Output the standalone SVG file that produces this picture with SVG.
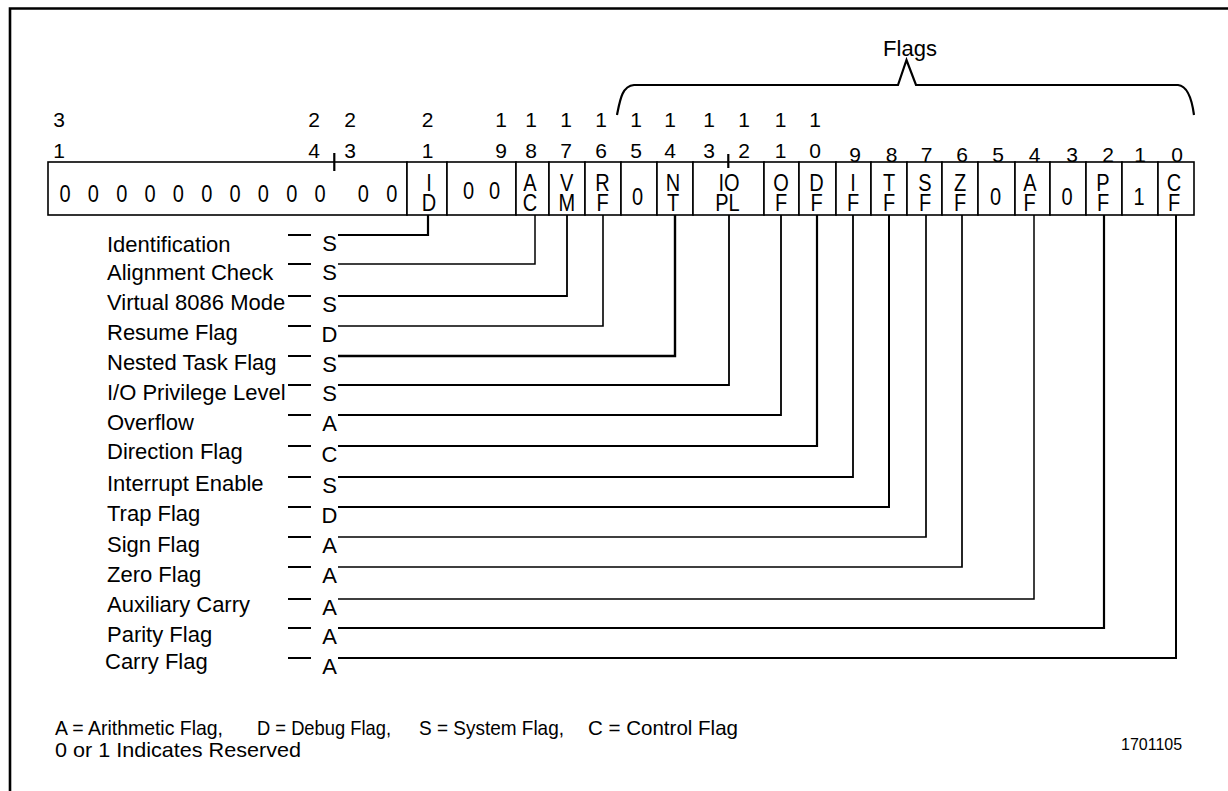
<svg xmlns="http://www.w3.org/2000/svg" width="1228" height="791" viewBox="0 0 1228 791">
<style>
text{font-family:"Liberation Sans",Arial,Helvetica,sans-serif;fill:#000}
.n{font-size:21px;text-anchor:middle}
.c{font-size:20px;text-anchor:middle}
.lb{font-size:22px}
.lt{font-size:22px;text-anchor:middle}
.lg{font-size:21px}
.cell{fill:#fff;stroke:#000;stroke-width:1.6}
.tk{fill:none;stroke:#000;stroke-width:2.2}
.ds{stroke:#000;stroke-width:2}
</style>
<rect width="1228" height="791" fill="#fff"/>
<path d="M10,791 V8.5 H1228" fill="none" stroke="#000" stroke-width="2.6"/>

<g id="bit-numbers">
<text class="n" x="59" y="126.5">3</text><text class="n" x="59" y="158">1</text>
<text class="n" x="314" y="126.5">2</text><text class="n" x="314" y="158">4</text>
<text class="n" x="350" y="126.5">2</text><text class="n" x="350" y="158">3</text>
<text class="n" x="427.5" y="126.5">2</text><text class="n" x="427.5" y="158">1</text>
<text class="n" x="501" y="126.5">1</text><text class="n" x="501" y="158">9</text>
<text class="n" x="531" y="126.5">1</text><text class="n" x="531" y="158">8</text>
<text class="n" x="566" y="126.5">1</text><text class="n" x="566" y="158">7</text>
<text class="n" x="601" y="126.5">1</text><text class="n" x="601" y="158">6</text>
<text class="n" x="636" y="126.5">1</text><text class="n" x="636" y="158">5</text>
<text class="n" x="670" y="126.5">1</text><text class="n" x="670" y="158">4</text>
<text class="n" x="709" y="126.5">1</text><text class="n" x="709" y="158">3</text>
<text class="n" x="744" y="126.5">1</text><text class="n" x="744" y="158">2</text>
<text class="n" x="780.5" y="126.5">1</text><text class="n" x="780.5" y="158">1</text>
<text class="n" x="815" y="126.5">1</text><text class="n" x="815" y="158">0</text>
<text class="n" x="855" y="161.5">9</text>
<text class="n" x="891.5" y="161.5">8</text>
<text class="n" x="926.5" y="161.5">7</text>
<text class="n" x="962" y="161.5">6</text>
<text class="n" x="998" y="161.5">5</text>
<text class="n" x="1034.5" y="161.5">4</text>
<text class="n" x="1072" y="161.5">3</text>
<text class="n" x="1108" y="161.5">2</text>
<text class="n" x="1140" y="161.5">1</text>
<text class="n" x="1177" y="161.5">0</text>
</g>

<g id="flags-brace">
<path class="tk" d="M617,115 C620,100 622,86 634,85 H898 L906.5,60 L916,85 H1178 C1188,86 1192,100 1194,115" stroke-width="2"/>
<text class="lt" x="910" y="56">Flags</text>
</g>

<g id="register">
<g id="cell-reserved-31-22">
<rect class="cell" x="48" y="162" width="359" height="53"/>
<text class="c" transform="translate(65 201.5) scale(1 1.15)">0</text>
<text class="c" transform="translate(93.3 201.5) scale(1 1.15)">0</text>
<text class="c" transform="translate(121.7 201.5) scale(1 1.15)">0</text>
<text class="c" transform="translate(150 201.5) scale(1 1.15)">0</text>
<text class="c" transform="translate(178.3 201.5) scale(1 1.15)">0</text>
<text class="c" transform="translate(206.7 201.5) scale(1 1.15)">0</text>
<text class="c" transform="translate(235 201.5) scale(1 1.15)">0</text>
<text class="c" transform="translate(263.3 201.5) scale(1 1.15)">0</text>
<text class="c" transform="translate(291.7 201.5) scale(1 1.15)">0</text>
<text class="c" transform="translate(320 201.5) scale(1 1.15)">0</text>
<text class="c" transform="translate(363.3 201.5) scale(1 1.15)">0</text>
<text class="c" transform="translate(391.7 201.5) scale(1 1.15)">0</text>
</g>
<g id="cell-ID"><rect class="cell" x="407" y="162" width="40" height="53"/>
<text class="c" transform="translate(429 190.5) scale(1 1.15)">I</text><text class="c" transform="translate(429 211) scale(1 1.15)">D</text></g>
<g id="cell-reserved-20-19"><rect class="cell" x="447" y="162" width="69" height="53"/>
<text class="c" transform="translate(468.5 199) scale(1 1.15)">0</text><text class="c" transform="translate(494.5 199) scale(1 1.15)">0</text></g>
<g id="cell-AC"><rect class="cell" x="516" y="162" width="33" height="53"/>
<text class="c" transform="translate(530 190.5) scale(1 1.15)">A</text><text class="c" transform="translate(530 211) scale(1 1.15)">C</text></g>
<g id="cell-VM"><rect class="cell" x="549" y="162" width="36" height="53"/>
<text class="c" transform="translate(566.7 190.5) scale(1 1.15)">V</text><text class="c" transform="translate(566.7 211) scale(1 1.15)">M</text></g>
<g id="cell-RF"><rect class="cell" x="585" y="162" width="36" height="53"/>
<text class="c" transform="translate(602.5 190.5) scale(1 1.15)">R</text><text class="c" transform="translate(602.5 211) scale(1 1.15)">F</text></g>
<g id="cell-reserved-15"><rect class="cell" x="621" y="162" width="36" height="53"/>
<text class="c" transform="translate(637.5 205) scale(1 1.15)">0</text></g>
<g id="cell-NT"><rect class="cell" x="657" y="162" width="36" height="53"/>
<text class="c" transform="translate(673 190.5) scale(1 1.15)">N</text><text class="c" transform="translate(673 211) scale(1 1.15)">T</text></g>
<g id="cell-IOPL"><rect class="cell" x="693" y="162" width="71" height="53"/>
<text class="c" transform="translate(729 190.5) scale(1 1.15)">IO</text><text class="c" transform="translate(727.5 211) scale(1 1.15)">PL</text></g>
<g id="cell-OF"><rect class="cell" x="764" y="162" width="35" height="53"/>
<text class="c" transform="translate(781 190.5) scale(1 1.15)">O</text><text class="c" transform="translate(781 211) scale(1 1.15)">F</text></g>
<g id="cell-DF"><rect class="cell" x="799" y="162" width="37" height="53"/>
<text class="c" transform="translate(816.5 190.5) scale(1 1.15)">D</text><text class="c" transform="translate(816.5 211) scale(1 1.15)">F</text></g>
<g id="cell-IF"><rect class="cell" x="836" y="162" width="35" height="53"/>
<text class="c" transform="translate(853 190.5) scale(1 1.15)">I</text><text class="c" transform="translate(853 211) scale(1 1.15)">F</text></g>
<g id="cell-TF"><rect class="cell" x="871" y="162" width="36" height="53"/>
<text class="c" transform="translate(889 190.5) scale(1 1.15)">T</text><text class="c" transform="translate(889 211) scale(1 1.15)">F</text></g>
<g id="cell-SF"><rect class="cell" x="907" y="162" width="35" height="53"/>
<text class="c" transform="translate(925 190.5) scale(1 1.15)">S</text><text class="c" transform="translate(925 211) scale(1 1.15)">F</text></g>
<g id="cell-ZF"><rect class="cell" x="942" y="162" width="36" height="53"/>
<text class="c" transform="translate(960 190.5) scale(1 1.15)">Z</text><text class="c" transform="translate(960 211) scale(1 1.15)">F</text></g>
<g id="cell-reserved-5"><rect class="cell" x="978" y="162" width="37" height="53"/>
<text class="c" transform="translate(995.5 205) scale(1 1.15)">0</text></g>
<g id="cell-AF"><rect class="cell" x="1015" y="162" width="35" height="53"/>
<text class="c" transform="translate(1030 190.5) scale(1 1.15)">A</text><text class="c" transform="translate(1029.5 211) scale(1 1.15)">F</text></g>
<g id="cell-reserved-3"><rect class="cell" x="1050" y="162" width="36" height="53"/>
<text class="c" transform="translate(1067 205) scale(1 1.15)">0</text></g>
<g id="cell-PF"><rect class="cell" x="1086" y="162" width="36" height="53"/>
<text class="c" transform="translate(1103 190.5) scale(1 1.15)">P</text><text class="c" transform="translate(1103 211) scale(1 1.15)">F</text></g>
<g id="cell-reserved-1"><rect class="cell" x="1122" y="162" width="36" height="53"/>
<text class="c" transform="translate(1139 205) scale(1 1.15)">1</text></g>
<g id="cell-CF"><rect class="cell" x="1158" y="162" width="36" height="53"/>
<text class="c" transform="translate(1174 190.5) scale(1 1.15)">C</text><text class="c" transform="translate(1174 211) scale(1 1.15)">F</text></g>
<path class="tk" d="M334.3,153 V171 M728.3,154 V168"/>
</g>

<g id="connectors" fill="none" stroke="#000">
<path d="M338,235 H428 V215" stroke-width="2.2"/>
<path d="M338,264 H535 V215" stroke-width="1.5"/>
<path d="M338,296 H567 V215" stroke-width="1.8"/>
<path d="M338,326 H603 V215" stroke-width="1.6"/>
<path d="M338,356 H675 V215" stroke-width="2.4"/>
<path d="M338,385 H729 V215" stroke-width="1.8"/>
<path d="M338,415 H781 V215" stroke-width="1.8"/>
<path d="M338,446 H817 V215" stroke-width="2.2"/>
<path d="M338,477 H853 V215" stroke-width="1.8"/>
<path d="M338,507 H889 V215" stroke-width="2"/>
<path d="M338,537 H926 V215" stroke-width="1.7"/>
<path d="M338,567 H962 V215" stroke-width="1.7"/>
<path d="M338,599 H1034 V215" stroke-width="1.5"/>
<path d="M338,628 H1104 V215" stroke-width="2.2"/>
<path d="M338,658 H1176 V215" stroke-width="2"/>
</g>

<g id="flag-ID"><text class="lb" x="107" y="251.5">Identification</text><line class="ds" x1="288" y1="235" x2="311" y2="235"/><text class="lt" x="329.5" y="251">S</text></g>
<g id="flag-AC"><text class="lb" x="107" y="280">Alignment Check</text><line class="ds" x1="288" y1="264" x2="311" y2="264"/><text class="lt" x="329.5" y="280">S</text></g>
<g id="flag-VM"><text class="lb" x="107" y="309.5">Virtual 8086 Mode</text><line class="ds" x1="288" y1="296" x2="311" y2="296"/><text class="lt" x="329.5" y="311.5">S</text></g>
<g id="flag-RF"><text class="lb" x="107" y="339.5">Resume Flag</text><line class="ds" x1="288" y1="326" x2="311" y2="326"/><text class="lt" x="329.5" y="341.5">D</text></g>
<g id="flag-NT"><text class="lb" x="107" y="370">Nested Task Flag</text><line class="ds" x1="288" y1="356" x2="311" y2="356"/><text class="lt" x="329.5" y="371.5">S</text></g>
<g id="flag-IOPL"><text class="lb" x="107" y="400">I/O Privilege Level</text><line class="ds" x1="288" y1="385" x2="311" y2="385"/><text class="lt" x="329.5" y="400.5">S</text></g>
<g id="flag-OF"><text class="lb" x="107" y="430">Overflow</text><line class="ds" x1="288" y1="415" x2="311" y2="415"/><text class="lt" x="329.5" y="430.5">A</text></g>
<g id="flag-DF"><text class="lb" x="107" y="459">Direction Flag</text><line class="ds" x1="288" y1="446" x2="311" y2="446"/><text class="lt" x="329.5" y="461.5">C</text></g>
<g id="flag-IF"><text class="lb" x="107" y="490.5">Interrupt Enable</text><line class="ds" x1="288" y1="477" x2="311" y2="477"/><text class="lt" x="329.5" y="492.5">S</text></g>
<g id="flag-TF"><text class="lb" x="107" y="521">Trap Flag</text><line class="ds" x1="288" y1="507" x2="311" y2="507"/><text class="lt" x="329.5" y="522.5">D</text></g>
<g id="flag-SF"><text class="lb" x="107" y="551.5">Sign Flag</text><line class="ds" x1="288" y1="537" x2="311" y2="537"/><text class="lt" x="329.5" y="552.5">A</text></g>
<g id="flag-ZF"><text class="lb" x="107" y="581.5">Zero Flag</text><line class="ds" x1="288" y1="567" x2="311" y2="567"/><text class="lt" x="329.5" y="582.5">A</text></g>
<g id="flag-AF"><text class="lb" x="107" y="611.5">Auxiliary Carry</text><line class="ds" x1="288" y1="599" x2="311" y2="599"/><text class="lt" x="329.5" y="614.5">A</text></g>
<g id="flag-PF"><text class="lb" x="107" y="641.5">Parity Flag</text><line class="ds" x1="288" y1="628" x2="311" y2="628"/><text class="lt" x="329.5" y="643.5">A</text></g>
<g id="flag-CF"><text class="lb" x="105" y="668.5">Carry Flag</text><line class="ds" x1="288" y1="658" x2="311" y2="658"/><text class="lt" x="329.5" y="673.5">A</text></g>

<g id="legend">
<text class="lg" x="55" y="735" textLength="168" lengthAdjust="spacingAndGlyphs">A = Arithmetic Flag,</text>
<text class="lg" x="257" y="735" textLength="134" lengthAdjust="spacingAndGlyphs">D = Debug Flag,</text>
<text class="lg" x="419" y="735" textLength="145" lengthAdjust="spacingAndGlyphs">S = System  Flag,</text>
<text class="lg" x="588" y="735" textLength="150" lengthAdjust="spacingAndGlyphs">C = Control Flag</text>
<text class="lg" x="55" y="757" textLength="246" lengthAdjust="spacingAndGlyphs">0 or 1 Indicates Reserved</text>
<text x="1121" y="750" font-size="16">1701105</text>
</g>
</svg>
